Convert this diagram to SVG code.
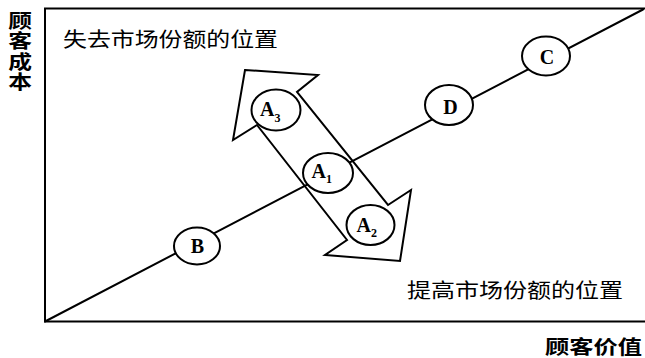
<svg xmlns="http://www.w3.org/2000/svg" width="645" height="358" viewBox="0 0 645 358">
<style>
.ln{stroke:#000;stroke-width:2;fill:none;stroke-linecap:round}
.nd{fill:#fff;stroke:#000;stroke-width:2}
.lt{font-family:"Liberation Serif","Times New Roman",serif;font-size:20px;font-weight:bold;fill:#000}
.sb{font-size:12px}
.cn{font-family:"Noto Sans CJK SC","Noto Sans",sans-serif;font-size:20px;fill:#000}
.ax{font-size:19px;font-weight:bold}
</style>
<rect width="645" height="358" fill="#fff"/>
<g id="connectors">
<polyline class="ln" points="645,8.5 45,8.5 45,321.5 645,321.5"/>
<line class="ln" x1="45" y1="321.5" x2="643" y2="9.5"/>
</g>
<g id="arrow">
<polygon class="ln" stroke-linejoin="miter" fill="#fff" points="245,70 318,75 297,92 388,205 411,190 400,261 325,255 347,240 257,125 233,140"/>
</g>
<g id="node-B"><ellipse class="nd" cx="197" cy="246" rx="23" ry="18.5"/><text class="lt" x="197.5" y="252.5" text-anchor="middle">B</text></g>
<g id="node-D"><ellipse class="nd" cx="449" cy="105" rx="24" ry="20"/><text class="lt" x="450.5" y="114" text-anchor="middle">D</text></g>
<g id="node-C"><ellipse class="nd" cx="546" cy="56" rx="24" ry="19.5"/><text class="lt" x="547" y="63.5" text-anchor="middle">C</text></g>
<g id="node-A1"><ellipse class="nd" cx="328" cy="173" rx="25" ry="20"/><text class="lt" x="311.5" y="178">A<tspan class="sb" dy="5">1</tspan></text></g>
<g id="node-A3"><ellipse class="nd" cx="276" cy="110" rx="24.5" ry="20.5"/><text class="lt" x="260" y="115.5">A<tspan class="sb" dy="6">3</tspan></text></g>
<g id="node-A2"><ellipse class="nd" cx="370.5" cy="225" rx="24" ry="20"/><text class="lt" x="356.5" y="232">A<tspan class="sb" dy="5">2</tspan></text></g>
<g id="labels">
<text class="cn" x="63" y="46.5" textLength="215" lengthAdjust="spacingAndGlyphs">失去市场份额的位置</text>
<text class="cn" x="407" y="298" textLength="216" lengthAdjust="spacingAndGlyphs">提高市场份额的位置</text>
<text class="cn ax" x="545" y="353.5" textLength="97" lengthAdjust="spacingAndGlyphs">顾客价值</text>
<g transform="translate(20,0) scale(1.25,1)">
<text class="cn ax" x="0" y="11" writing-mode="vertical-rl" letter-spacing="1.5">顾客成本</text>
</g>
</g>
</svg>
